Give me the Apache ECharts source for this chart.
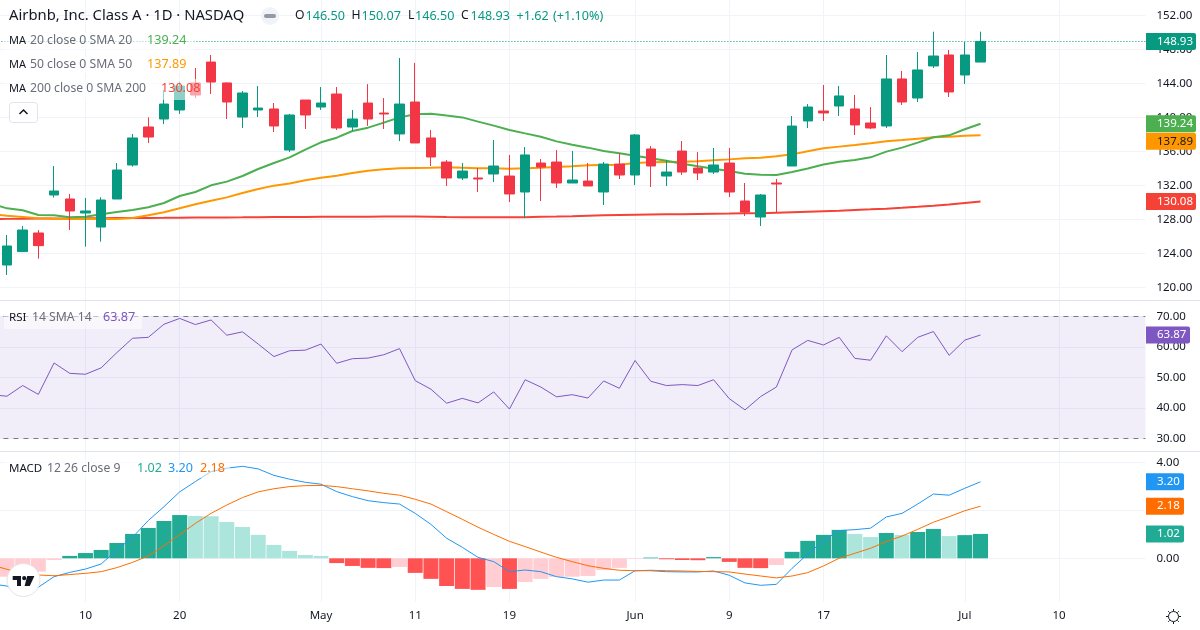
<!DOCTYPE html>
<html>
<head>
<meta charset="utf-8">
<style>html,body{margin:0;padding:0;background:#fff}#chart{width:1200px;height:630px}</style>
<script src="https://cdn.jsdelivr.net/npm/echarts@6/dist/echarts.min.js"></script>
</head>
<body>
<div id="chart"></div>
<script>
// Daily candles, oldest first
const opens  = [122.62,124.2,126.39,130.86,130.39,128.74,127.09,130.39,134.39,138.86,139.8,140.86,144.03,146.5,144.04,140.03,140.86,140.98,136.15,142.03,141.21,142.74,138.86,141.68,140.5,138.04,141.8,137.57,134.74,132.86,132.86,133.33,133.09,131.21,134.62,134.74,132.27,132.5,131.21,134.5,133.21,136.27,133.09,136.03,134.03,133.56,134.62,130.15,128.27,132.27,134.27,139.57,140.74,141.33,140.98,139.33,138.98,144.51,142.27,146.04,147.33,144.98,146.5];
const closes = [124.86,126.74,124.9,131.33,128.98,128.98,130.27,133.8,137.57,137.68,141.56,143.68,142.62,144.15,141.8,142.86,141.09,138.98,140.27,140.27,141.68,138.74,139.8,139.8,140.39,141.56,136.98,135.33,132.86,133.68,132.74,134.27,130.98,135.57,134.15,132.27,132.62,131.92,134.5,133.21,137.92,134.27,133.56,133.56,133.44,134.39,131.21,128.86,130.86,132.15,138.97,141.21,140.51,142.51,139.1,138.74,144.51,141.8,145.57,147.21,142.98,147.33,148.93];
const lows   = [121.45,124.2,123.37,130.55,126.74,124.78,125.37,130.39,134.2,136.98,139.2,140.4,142.27,142.74,139.8,138.74,140.03,138.27,135.9,138.62,140.86,138.5,138.4,138.98,138.62,137.2,136.98,134.27,131.92,132.62,131.21,132.39,130.04,128.15,130.15,131.68,132.27,131.92,129.68,132.74,132.03,131.8,131.92,133.21,132.62,133.33,130.62,128.39,127.21,128.74,134.27,138.74,139.57,140.16,137.92,138.63,138.74,141.45,141.8,145.8,142.39,143.92,146.5];
const highs  = [126.15,127.21,126.74,134.27,130.98,130.5,130.6,134.62,138.03,139.99,143.2,144.2,145.8,147.33,144.1,143.09,143.68,141.68,140.4,142.03,143.56,143.56,140.86,143.9,142.27,146.98,146.4,138.5,134.97,134.62,134.04,137.33,135.57,136.5,135.09,136.15,136.04,134.62,134.74,135.8,138.03,136.62,134.97,137.21,135.9,136.39,136.39,132.27,130.97,132.74,140.15,141.56,143.8,143.69,142.63,141.2,147.33,145.45,147.69,150.07,147.92,148.86,150.07];

// Moving averages, RSI and MACD start one session before the first candle
const ma20 = [129.84,129.29,129.06,128.51,128.47,128.23,128.31,128.59,128.86,129.09,129.41,129.92,130.74,131.21,132.0,132.43,133.09,133.92,134.62,135.29,136.2,137.06,137.6,138.39,138.78,139.37,139.99,140.35,140.43,140.2,139.99,139.49,139.02,138.51,138.11,137.72,137.17,136.78,136.43,136.03,135.76,135.48,135.17,134.9,134.54,134.23,133.96,133.68,133.37,133.25,133.21,133.56,133.97,134.45,134.78,134.98,135.29,135.96,136.43,137.02,137.65,137.88,138.59,139.24];
const ma50 = [128.62,128.43,128.27,128.11,128.07,128.04,128.04,128.04,128.04,128.15,128.47,128.82,129.3,129.76,130.19,130.58,131.09,131.56,131.96,132.2,132.59,132.9,133.13,133.45,133.72,133.88,134,134.04,134.07,134.11,134.07,134,134,133.96,134,134.07,134.15,134.23,134.35,134.39,134.43,134.62,134.7,134.74,134.78,134.82,134.94,135.05,135.17,135.25,135.41,135.64,136,136.35,136.55,136.74,136.94,137.18,137.33,137.49,137.65,137.72,137.82,137.89];
const ma200 = [128.03,128.05,128.06,128.08,128.09,128.1,128.11,128.12,128.14,128.15,128.16,128.17,128.19,128.2,128.21,128.22,128.23,128.25,128.26,128.27,128.28,128.29,128.3,128.3,128.31,128.32,128.33,128.32,128.31,128.27,128.25,128.24,128.23,128.24,128.25,128.3,128.33,128.37,128.42,128.47,128.5,128.53,128.56,128.58,128.6,128.63,128.65,128.67,128.7,128.72,128.78,128.84,128.9,128.96,129.02,129.1,129.17,129.25,129.35,129.47,129.6,129.75,129.92,130.08];
const rsi = [44.3,43.8,47.3,44.4,54.7,51.3,51,53.1,58.1,62.8,63.1,67.4,69.3,67.3,68.8,63.8,64.9,60.9,56.8,58.7,58.9,60.9,54.6,56.1,56.3,57.4,59.4,48.9,46.1,41.5,43.1,41.6,45.2,39.6,49.2,46.8,43.6,44.3,43.2,48.8,46.4,55.5,48.7,47.3,47.6,47.3,49.2,43,39.3,43.7,46.8,59,62.1,60.6,63.1,56.2,55.6,63.6,58.4,63.1,65,57.2,62.2,63.87];
const macdLine = [-1.07,-1.16,-1.5,-1.21,-0.77,-0.59,-0.45,-0.24,0.35,0.88,1.58,2.16,2.78,3.21,3.63,3.77,3.85,3.74,3.47,3.31,3.18,3.1,2.79,2.58,2.41,2.33,2.27,1.88,1.42,0.84,0.46,0.04,-0.14,-0.56,-0.49,-0.56,-0.77,-0.86,-1,-0.91,-0.91,-0.52,-0.52,-0.56,-0.57,-0.57,-0.53,-0.71,-1.03,-1.13,-1.09,-0.42,0.18,0.74,1.16,1.2,1.26,1.73,1.88,2.27,2.69,2.64,2.93,3.2];
const signalLine = [-0.28,-0.46,-0.63,-0.7,-0.73,-0.68,-0.63,-0.56,-0.39,-0.17,0.1,0.52,0.99,1.46,1.88,2.23,2.54,2.78,2.91,3,3.04,3.05,3,2.91,2.82,2.72,2.64,2.47,2.27,1.95,1.63,1.3,1,0.71,0.49,0.26,0.04,-0.14,-0.31,-0.42,-0.5,-0.52,-0.5,-0.52,-0.53,-0.55,-0.56,-0.57,-0.66,-0.74,-0.82,-0.74,-0.6,-0.32,0,0.21,0.42,0.7,0.93,1.21,1.51,1.74,1.99,2.18];
const histogram = [-0.9,-0.77,-0.72,-0.56,-0.07,0.1,0.22,0.35,0.64,1.02,1.27,1.56,1.81,1.77,1.76,1.52,1.31,0.98,0.56,0.31,0.14,0.1,-0.2,-0.32,-0.4,-0.41,-0.36,-0.61,-0.86,-1.16,-1.28,-1.32,-1.2,-1.28,-0.99,-0.86,-0.78,-0.77,-0.74,-0.49,-0.4,-0.03,0.03,-0.04,-0.07,-0.08,0.05,-0.15,-0.4,-0.41,-0.28,0.27,0.73,0.98,1.19,1.02,0.89,1.06,0.98,1.1,1.23,0.93,0.97,1.02];

// Time axis: which candle each date label belongs to
const tickLabels = ['10','20','May','11','19','Jun','9','17','Jul','10'];
const tickCandles = [5,11,20,26,32,40,46,52,61,67];
const futureSlots = 10;

const UP = '#089981', DOWN = '#F23645';
const FONT = '"Noto Sans", sans-serif';
const TEXT = '#131722', MUTED = '#6A6D78', GRID = '#F0F3FA', RULE = '#E0E3EB';
const PLOT_LEFT = -16.6, PLOT_WIDTH = 1162;

// One lead slot before the candles, plus empty sessions to the right
const slotCount = 1 + opens.length + futureSlots;
const categories = Array.from({length: slotCount}, (_, i) => 's' + i);
const labelOf = {};
tickCandles.forEach((c, i) => { labelOf[c + 1] = tickLabels[i]; });

const candleData = [['-','-','-','-']].concat(opens.map((o, i) => [o, closes[i], lows[i], highs[i]]));

// Histogram shade follows the direction of change
const histData = histogram.map((v, i) => {
  const prev = i ? histogram[i - 1] : v;
  const color = v >= 0 ? (v > prev ? '#22AB94' : '#ACE5DC') : (v < prev ? '#FF5252' : '#FFCDD2');
  return {value: v, itemStyle: {color}};
});

const plot = (top, height) => ({left: PLOT_LEFT, width: PLOT_WIDTH, top, height, outerBoundsMode: 'none'});
const hiddenX = gridIndex => ({type: 'category', gridIndex, data: categories, show: false, boundaryGap: true});
const priceLabel = {color: TEXT, fontFamily: FONT, fontSize: 11.5, margin: 11, formatter: v => v.toFixed(2)};
const yBase = gridIndex => ({
  type: 'value', gridIndex, position: 'right', scale: true,
  axisLine: {show: false}, axisTick: {show: false},
  splitLine: {lineStyle: {color: GRID, width: 1}},
  axisLabel: priceLabel
});
const line = (name, data, color, width, xAxisIndex, yAxisIndex, z) => ({
  name, type: 'line', data, xAxisIndex, yAxisIndex, z,
  showSymbol: false, symbol: 'none', smooth: false,
  lineStyle: {color, width}, silent: true
});

const option = {
  animation: false,
  backgroundColor: '#fff',
  grid: [plot(15.3, 272), plot(316.3, 122), plot(462.7, 143.4), plot(0, 602)],
  xAxis: [
    hiddenX(0), hiddenX(1), hiddenX(2),
    {
      type: 'category', gridIndex: 3, data: categories, boundaryGap: true,
      axisLine: {show: false}, axisTick: {show: false},
      splitLine: {show: true, alignWithLabel: true, interval: i => i in labelOf, lineStyle: {color: GRID, width: 1}},
      axisLabel: {
        interval: i => i in labelOf, formatter: (v, i) => labelOf[i] || '',
        color: TEXT, fontFamily: FONT, fontSize: 11.5, margin: 8
      }
    }
  ],
  yAxis: [
    Object.assign(yBase(0), {min: 120, max: 152, interval: 4}),
    Object.assign(yBase(1), {min: 30, max: 70, interval: 10}),
    Object.assign(yBase(2), {
      min: -2, max: 4, interval: 2,
      splitLine: {showMinLine: false, lineStyle: {color: GRID, width: 1}},
      axisLabel: Object.assign({}, priceLabel, {showMinLabel: false})
    }),
    {type: 'value', gridIndex: 3, show: false, splitLine: {show: false}}
  ],
  series: [
    line('MA 200', ma200, '#F44336', 2, 0, 0, 2),
    line('MA 50', ma50, '#FF9800', 2, 0, 0, 2),
    line('MA 20', ma20, '#4CAF50', 2, 0, 0, 2),
    {
      name: 'Price', type: 'candlestick', data: candleData, xAxisIndex: 0, yAxisIndex: 0, z: 3,
      barWidth: 10, silent: true,
      itemStyle: {color: UP, color0: DOWN, borderColor: UP, borderColor0: DOWN, borderWidth: 1},
      markLine: {
        silent: true, symbol: 'none', label: {show: false}, animation: false,
        lineStyle: {color: UP, type: [1, 2], width: 1},
        data: [{yAxis: closes[closes.length - 1]}]
      }
    },
    Object.assign(line('RSI', rsi, '#7E57C2', 1, 1, 1, 3), {
      markArea: {silent: true, itemStyle: {color: 'rgba(126,87,194,0.1)'}, data: [[{yAxis: 30}, {yAxis: 70}]]},
      markLine: {
        silent: true, symbol: 'none', label: {show: false}, animation: false,
        lineStyle: {color: '#787B86', type: [5, 5], width: 1},
        data: [{yAxis: 70}, {yAxis: 30}]
      }
    }),
    {name: 'Histogram', type: 'bar', data: histData, xAxisIndex: 2, yAxisIndex: 2, barWidth: 15, z: 2, silent: true},
    line('MACD', macdLine, '#2196F3', 1, 2, 2, 3),
    line('Signal', signalLine, '#FF6D00', 1, 2, 2, 3)
  ]
};

const chart = echarts.init(document.getElementById('chart'), null, {renderer: 'canvas'});
chart.setOption(option);

const last = a => a[a.length - 1];
const txt = (x, y, text, fill, size = 12.2) => ({
  type: 'text', z: 30, silent: true,
  style: {x, y, text, fill, font: size + 'px ' + FONT, textVerticalAlign: 'middle'}
});
const veil = (x, y, width, height) => ({
  type: 'rect', z: 20, silent: true, shape: {x, y, width, height},
  style: {fill: 'rgba(255,255,255,0.55)'}
});
const rule = y => ({
  type: 'line', z: 5, silent: true, shape: {x1: 0, y1: y, x2: 1200, y2: y},
  style: {stroke: RULE, lineWidth: 1}
});
const stroke = (x1, y1, x2, y2, z, color, width) => ({
  type: 'line', z, silent: true, shape: {x1, y1, x2, y2},
  style: {stroke: color, lineWidth: width}
});

// Value tag on the price scale; shift moves it clear of a neighbouring tag
const tag = (yAxisIndex, value, fill, textFill, width, shift = 0) => {
  const cy = chart.convertToPixel({yAxisIndex}, value) + shift;
  return [
    {type: 'rect', z: 40, silent: true, shape: {x: 1146, y: cy - 8.5, width, height: 17, r: [0, 2, 2, 0]}, style: {fill}},
    {type: 'text', z: 41, silent: true, style: {x: 1157, y: cy, text: value.toFixed(2), fill: textFill, font: '11.5px ' + FONT, textVerticalAlign: 'middle'}}
  ];
};

const header = [
  txt(9, 16, 'Airbnb, Inc. Class A · 1D · NASDAQ', TEXT, 14.8),
  {type: 'circle', z: 30, silent: true, shape: {cx: 270, cy: 16, r: 9}, style: {fill: GRID}},
  {type: 'rect', z: 31, silent: true, shape: {x: 264, y: 14, width: 12, height: 4, r: 2}, style: {fill: '#9598A1'}},
  txt(295, 16, 'O', TEXT), txt(305.5, 16, opens[opens.length - 1].toFixed(2), UP, 12.6),
  txt(351.5, 16, 'H', TEXT), txt(361.5, 16, last(highs).toFixed(2), UP, 12.6),
  txt(408, 16, 'L', TEXT), txt(415, 16, last(lows).toFixed(2), UP, 12.6),
  txt(461, 16, 'C', TEXT), txt(470.5, 16, last(closes).toFixed(2), UP, 12.6),
  txt(516.5, 16, '+1.62', UP, 12.6), txt(553, 16, '(+1.10%)', UP, 12.6)
];

const legends = [
  veil(4, 32, 190, 18), veil(4, 56, 190, 18), veil(4, 79, 198, 21),
  txt(9, 40.5, 'MA', TEXT, 11), txt(30, 40.5, '20 close 0 SMA 20', MUTED), txt(147, 40.5, last(ma20).toFixed(2), '#4CAF50', 12.6),
  txt(9, 64.5, 'MA', TEXT, 11), txt(30, 64.5, '50 close 0 SMA 50', MUTED), txt(147, 64.5, last(ma50).toFixed(2), '#FF9800', 12.6),
  txt(9, 88.5, 'MA', TEXT, 11), txt(30, 88.5, '200 close 0 SMA 200', MUTED), txt(161, 88.5, last(ma200).toFixed(2), '#F44336', 12.6),
  {type: 'rect', z: 30, silent: true, shape: {x: 9.5, y: 102.5, width: 28, height: 20, r: 3}, style: {fill: '#fff', stroke: RULE, lineWidth: 1}},
  {type: 'polyline', z: 31, silent: true, shape: {points: [[19.5, 114], [23.5, 110], [27.5, 114]]}, style: {stroke: TEXT, lineWidth: 1.5, fill: null}},
  veil(4, 313, 138, 16),
  txt(9, 317.5, 'RSI', TEXT, 11.5), txt(32, 317.5, '14 SMA 14', MUTED), txt(103, 317.5, last(rsi).toFixed(2), '#7E57C2', 12.6),
  veil(4, 460, 226, 18),
  txt(9, 468.5, 'MACD', TEXT, 11.5), txt(47, 468.5, '12 26 close 9', MUTED),
  txt(137, 468.5, last(histogram).toFixed(2), '#22AB94', 12.6),
  txt(168, 468.5, last(macdLine).toFixed(2), '#2196F3', 12.6),
  txt(200, 468.5, last(signalLine).toFixed(2), '#FF6D00', 12.6)
];

const sunRays = [[0, -7.5, 0, -5.5], [0, 5.5, 0, 7.5], [-7.5, 0, -5.5, 0], [5.5, 0, 7.5, 0],
  [-5.3, -5.3, -3.9, -3.9], [3.9, 3.9, 5.3, 5.3], [-5.3, 5.3, -3.9, 3.9], [3.9, -3.9, 5.3, -5.3]];
const icons = [
  {type: 'circle', z: 50, silent: true, shape: {cx: 23.5, cy: 580, r: 16.5}, style: {fill: '#fff', stroke: RULE, lineWidth: 1}},
  {type: 'polygon', z: 51, silent: true, shape: {points: [[12.7, 576], [21, 576], [21, 586], [17, 586], [17, 580], [12.7, 580]]}, style: {fill: TEXT}},
  {type: 'polygon', z: 51, silent: true, shape: {points: [[27.2, 576], [34.4, 576], [29.8, 586], [24.6, 586]]}, style: {fill: TEXT}},
  {type: 'circle', z: 51, silent: true, shape: {cx: 24.2, cy: 578.2, r: 2.1}, style: {fill: TEXT}},
  {type: 'circle', z: 30, silent: true, shape: {cx: 1173.5, cy: 616.5, r: 5}, style: {fill: '#fff', stroke: TEXT, lineWidth: 1}}
].concat(sunRays.map(r => stroke(1173.5 + r[0], 616.5 + r[1], 1173.5 + r[2], 616.5 + r[3], 30, TEXT, 1)));

chart.setOption({
  graphic: [].concat(
    rule(300.5), rule(451.5), header, legends, icons,
    tag(0, last(closes), UP, '#fff', 50),
    tag(0, last(ma20), '#4CAF50', '#fff', 50),
    tag(0, last(ma50), '#FF9800', TEXT, 50, 6),
    tag(0, last(ma200), '#F44336', '#fff', 50),
    tag(1, last(rsi), '#7E57C2', '#fff', 44),
    tag(2, last(macdLine), '#2196F3', '#fff', 38),
    tag(2, last(signalLine), '#FF6D00', '#fff', 38),
    tag(2, last(histogram), '#22AB94', '#fff', 38)
  )
});
</script>
</body>
</html>
